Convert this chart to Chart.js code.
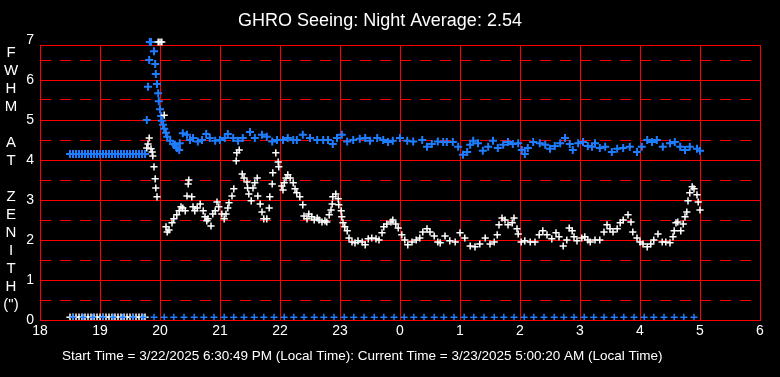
<!DOCTYPE html>
<html>
<head>
<meta charset="utf-8">
<title>GHRO Seeing</title>
<script src="https://cdn.jsdelivr.net/npm/chart.js@4"></script>
<style>
  html, body { margin: 0; padding: 0; background: #000; }
  #wrap { width: 780px; height: 377px; }
</style>
</head>
<body>
<div id="wrap"><canvas id="seeing" width="780" height="377"></canvas></div>
<script>
// hours after midnight of 3/22 (24+ = next morning)
var startHours = [18.50,18.55,18.60,18.65,18.70,18.75,18.80,18.85,18.90,18.95,19.00,19.05,19.10,
  19.15,19.20,19.25,19.30,19.35,19.40,19.45,19.50,19.55,19.60,19.65,19.70,19.75];
var startBlue = [4.15,4.15,4.15,4.15,4.15,4.15,4.15,4.15,4.15,4.15,4.15,4.15,4.15,
  4.15,4.15,4.15,4.15,4.15,4.15,4.15,4.15,4.15,4.15,4.15,4.15,4.15];
var startWhite = [0.07,0.07,0.07,0.07,0.07,0.07,0.07,0.07,0.07,0.07,0.07,0.07,0.07,
  0.07,0.07,0.07,0.07,0.07,0.07,0.07,0.07,0.07,0.07,0.07,0.07,0.07];

var blueHours = [19.78,19.80,19.82,19.83,19.85,19.90,19.92,19.93,19.95,19.97,19.98,20.00,20.02,20.03,
  20.05,20.07,20.10,20.12,20.17,20.22,20.25,20.28,20.32,20.33,20.38,20.45,20.50,20.55,20.63,20.70,
  20.77,20.83,20.92,21.00,21.08,21.13,21.22,21.30,21.38,21.50,21.58,21.70,21.78,21.87,21.95,22.05,
  22.13,22.22,22.28,22.38,22.50,22.62,22.72,22.80,22.88,22.95,23.03,23.12,23.22,23.33,23.42,23.50,
  23.62,23.72,23.80,23.88,24.00,24.12,24.22,24.37,24.45,24.53,24.63,24.72,24.78,24.88,24.97,25.05,
  25.12,25.17,25.22,25.30,25.38,25.47,25.55,25.63,25.72,25.80,25.88,25.97,26.03,26.08,26.13,26.22,
  26.33,26.42,26.50,26.58,26.67,26.75,26.83,26.88,26.97,27.05,27.13,27.20,27.25,27.33,27.42,27.53,
  27.62,27.72,27.83,27.95,28.03,28.12,28.20,28.28,28.38,28.50,28.58,28.67,28.75,28.83,28.95,29.00];
var blueFwhm = [5.00,5.83,6.50,6.95,6.95,6.72,6.40,6.15,5.90,5.67,5.47,5.27,5.10,4.98,
  4.88,4.78,4.68,4.58,4.48,4.40,4.38,4.30,4.25,4.42,4.67,4.63,4.50,4.55,4.46,4.50,
  4.65,4.55,4.48,4.50,4.55,4.65,4.55,4.48,4.55,4.70,4.55,4.63,4.58,4.46,4.50,4.50,
  4.55,4.50,4.50,4.63,4.55,4.50,4.50,4.50,4.40,4.55,4.63,4.46,4.50,4.53,4.55,4.48,
  4.55,4.50,4.45,4.48,4.55,4.48,4.46,4.50,4.33,4.40,4.46,4.45,4.45,4.45,4.33,4.13,
  4.20,4.38,4.48,4.42,4.23,4.33,4.48,4.30,4.38,4.45,4.40,4.42,4.25,4.15,4.30,4.45,
  4.42,4.38,4.28,4.35,4.42,4.55,4.40,4.25,4.42,4.45,4.35,4.33,4.42,4.30,4.33,4.20,
  4.28,4.30,4.33,4.20,4.33,4.50,4.45,4.50,4.33,4.42,4.45,4.33,4.25,4.33,4.28,4.23];

var whiteHours = [19.78,19.80,19.82,19.85,19.87,19.88,19.90,19.92,19.93,19.95,19.97,20.00,20.03,20.07,
  20.10,20.12,20.15,20.20,20.23,20.28,20.32,20.35,20.38,20.42,20.45,20.47,20.48,20.53,20.55,20.58,
  20.62,20.67,20.72,20.75,20.78,20.80,20.85,20.88,20.92,20.95,20.98,21.03,21.07,21.10,21.13,21.15,
  21.20,21.23,21.27,21.28,21.32,21.37,21.40,21.45,21.46,21.48,21.52,21.55,21.58,21.62,21.63,21.67,
  21.70,21.73,21.78,21.82,21.83,21.87,21.88,21.93,21.97,21.98,22.03,22.05,22.07,22.10,22.13,22.17,
  22.22,22.25,22.28,22.33,22.38,22.40,22.45,22.48,22.53,22.57,22.62,22.65,22.70,22.75,22.78,22.82,
  22.85,22.87,22.88,22.93,22.97,22.98,23.02,23.03,23.05,23.08,23.12,23.15,23.20,23.25,23.30,23.37,
  23.42,23.47,23.53,23.60,23.65,23.70,23.73,23.78,23.85,23.88,23.93,23.97,24.03,24.08,24.13,24.20,
  24.27,24.33,24.38,24.45,24.50,24.57,24.63,24.67,24.75,24.83,24.92,25.00,25.08,25.17,25.25,25.33,
  25.42,25.50,25.57,25.62,25.65,25.70,25.75,25.80,25.87,25.90,25.95,25.97,26.02,26.08,26.17,26.25,
  26.32,26.38,26.45,26.53,26.60,26.65,26.72,26.78,26.82,26.87,26.90,26.95,27.03,27.08,27.13,27.17,
  27.25,27.33,27.40,27.45,27.50,27.55,27.62,27.67,27.72,27.80,27.85,27.88,27.95,28.00,28.05,28.12,
  28.18,28.23,28.30,28.37,28.43,28.50,28.55,28.57,28.60,28.63,28.68,28.72,28.75,28.78,28.80,28.83,
  28.87,28.90,28.95,28.97,29.00];
var whiteFwhm = [4.30,4.40,4.55,4.28,4.20,4.10,3.83,3.53,3.30,3.08,6.95,6.95,6.95,5.12,
  2.33,2.20,2.25,2.43,2.53,2.63,2.73,2.83,2.80,2.73,3.10,3.40,3.50,3.08,2.83,2.73,
  2.80,2.90,2.73,2.58,2.48,2.53,2.35,2.65,2.73,2.95,2.83,2.65,2.53,2.65,2.80,2.93,
  3.10,3.28,3.98,4.18,4.25,3.65,3.55,3.45,3.30,3.15,2.98,3.30,3.43,3.55,3.10,2.90,
  2.70,2.53,2.53,2.80,3.08,3.40,3.68,4.18,3.95,3.83,3.35,3.25,3.43,3.55,3.63,3.55,
  3.43,3.28,3.18,3.08,2.88,2.60,2.53,2.65,2.58,2.50,2.55,2.50,2.45,2.48,2.45,2.63,
  2.75,2.90,3.08,3.15,3.03,2.88,2.73,2.58,2.43,2.33,2.23,2.05,1.95,1.93,1.98,1.95,
  1.88,2.03,2.05,2.03,2.00,2.18,2.33,2.40,2.45,2.50,2.40,2.30,2.13,2.00,1.88,1.95,
  2.00,2.05,2.20,2.28,2.20,2.10,1.95,1.93,2.10,1.98,1.95,2.18,2.05,1.85,1.83,1.90,
  2.05,1.90,1.95,2.13,2.38,2.55,2.50,2.38,2.43,2.55,2.28,2.15,1.95,1.98,1.95,1.95,
  2.13,2.23,2.13,2.03,2.18,2.08,1.85,2.00,2.30,2.23,2.08,1.98,2.05,2.08,2.00,1.95,
  2.00,2.00,2.20,2.38,2.28,2.20,2.28,2.43,2.50,2.63,2.45,2.20,2.05,1.95,1.90,1.83,
  1.90,2.00,2.15,1.95,1.95,1.93,2.08,2.23,2.43,2.45,2.23,2.40,2.58,2.70,2.98,3.18,
  3.33,3.28,3.13,2.95,2.75];

// blue markers sitting just above the zero line
var zeroHours = [18.55,18.72,18.88,19.05,19.22,19.38,19.55,19.72,19.90,20.07,20.23,20.40,20.57,
  20.73,20.90,21.07,21.23,21.40,21.57,21.73,21.90,22.07,22.23,22.40,22.57,22.73,22.90,23.07,
  23.23,23.40,23.57,23.73,23.90,24.07,24.23,24.40,24.57,24.73,24.90,25.07,25.23,25.40,25.57,
  25.73,25.90,26.07,26.23,26.40,26.57,26.73,26.90,27.07,27.23,27.40,27.57,27.73,27.90,28.07,
  28.23,28.40,28.57,28.73,28.90];
var zeroLevel = 0.07;

var yTicks = [0, 1, 2, 3, 4, 5, 6, 7];
var halfLines = [0.5, 1.5, 2.5, 3.5, 4.5, 5.5, 6.5];
var yLetters = ['F','W','H','M','','A','T','','Z','E','N','I','T','H','(")'];
var titleText = 'GHRO Seeing: Night Average: 2.54';
var footText = 'Start Time = 3/22/2025 6:30:49 PM (Local Time): Current Time = 3/23/2025 5:00:20 AM (Local Time)';

var RED = '#ff0000';
var BLUE = 'rgb(30,125,255)';
var FONT = '"Liberation Sans", Arial, sans-serif';

function pts(xs, ys) {
  var out = [];
  for (var i = 0; i < xs.length; i++) out.push({x: xs[i], y: ys[i]});
  return out;
}

var gridExtras = {
  id: 'gridExtras',
  beforeDatasetsDraw: function(chart) {
    var ctx = chart.ctx, a = chart.chartArea, y = chart.scales.y;
    ctx.save();
    ctx.fillStyle = RED;
    // dashed half-unit lines, 11 on / 9 off, starting at the left edge
    halfLines.forEach(function(v) {
      var py = Math.round(y.getPixelForValue(v) - 0.5);
      for (var x = a.left; x < a.right; x += 20) {
        ctx.fillRect(x, py, Math.min(11, a.right - x), 1);
      }
    });
    // top edge of the frame
    ctx.fillRect(a.left, Math.round(a.top - 0.5), a.right - a.left + 1, 1);
    ctx.restore();
  },
  afterDraw: function(chart) {
    var ctx = chart.ctx;
    ctx.save();
    ctx.fillStyle = '#fff';
    ctx.textAlign = 'center';
    ctx.textBaseline = 'middle';
    ctx.font = '15px ' + FONT;
    yLetters.forEach(function(s, i) {
      if (s) ctx.fillText(s, 11, 53 + i * 18);
    });
    ctx.font = '13.5px ' + FONT;
    ctx.textAlign = 'left';
    ctx.fillText(footText, 62, 356);
    ctx.restore();
  }
};

var crossClip = {left: 6, top: 8, right: 6, bottom: 0};

new Chart(document.getElementById('seeing'), {
  type: 'scatter',
  data: {
    datasets: [
      {
        label: 'zero',
        data: pts(zeroHours, zeroHours.map(function() { return zeroLevel; })),
        borderColor: BLUE, backgroundColor: BLUE,
        pointStyle: 'cross', pointRadius: 3.5, pointBorderWidth: 1.5, clip: crossClip
      },
      {
        label: 'white',
        data: pts(startHours, startWhite).concat(pts(whiteHours, whiteFwhm)),
        borderColor: '#fff', backgroundColor: '#fff',
        pointStyle: 'cross', pointRadius: 3.6, pointBorderWidth: 1.5, clip: crossClip
      },
      {
        label: 'blue',
        data: pts(startHours, startBlue).concat(pts(blueHours, blueFwhm)),
        borderColor: BLUE, backgroundColor: BLUE,
        pointStyle: 'cross', pointRadius: 4, pointBorderWidth: 2, clip: crossClip
      }
    ]
  },
  options: {
    responsive: false,
    animation: false,
    events: [],
    layout: { padding: { left: 0, right: 20, top: 0, bottom: 0 } },
    plugins: {
      legend: { display: false },
      tooltip: { enabled: false },
      title: {
        display: true,
        text: titleText,
        color: '#fff',
        font: { family: FONT, size: 18, weight: 'normal', lineHeight: 1.2 },
        padding: { top: 10, bottom: 13.4 }
      }
    },
    scales: {
      x: {
        type: 'linear',
        min: 18, max: 30,
        afterFit: function(s) { s.height = 57; },
        grid: { color: RED, lineWidth: 1, drawTicks: false },
        border: { color: RED, width: 1 },
        ticks: {
          stepSize: 1, padding: 3, color: '#fff', maxRotation: 0,
          font: { family: FONT, size: 14 },
          callback: function(v) { return String(v % 24); }
        }
      },
      y: {
        min: 0, max: 6.875,
        afterFit: function(s) { s.width = 40; },
        afterBuildTicks: function(s) {
          s.ticks = yTicks.map(function(v) { return {value: v}; });
        },
        grid: {
          color: function(c) { return c.tick && c.tick.value > 6.9 ? 'rgba(0,0,0,0)' : RED; },
          lineWidth: 1, drawTicks: false
        },
        border: { color: RED, width: 1 },
        ticks: {
          padding: 6, color: '#fff', autoSkip: false,
          font: { family: FONT, size: 14 }
        }
      }
    }
  },
  plugins: [gridExtras]
});
</script>
</body>
</html>
